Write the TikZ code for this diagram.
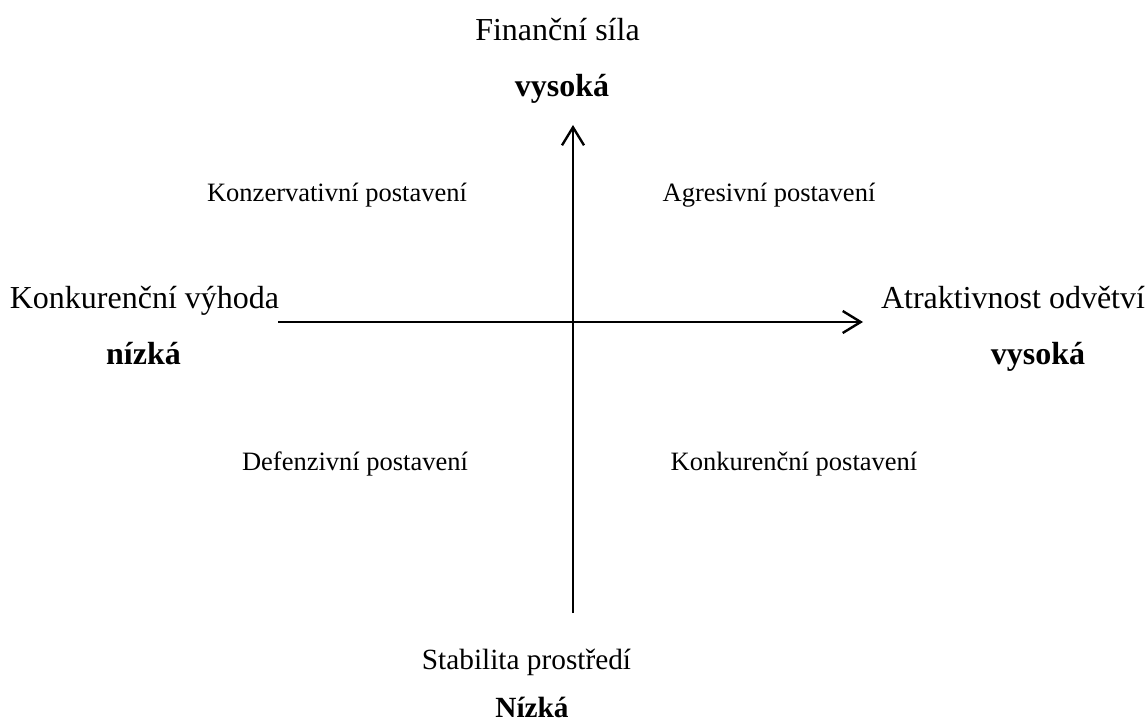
\documentclass[tikz,border=0pt]{standalone}
\usepackage{fontspec}
\setmainfont{Liberation Serif}
\usetikzlibrary{arrows.meta}
\tikzset{
  big/.style={anchor=base, inner sep=0pt, font=\fontsize{32}{38}\selectfont},
  bigb/.style={anchor=base, inner sep=0pt, font=\fontsize{32}{38}\selectfont\bfseries},
  mid/.style={anchor=base, inner sep=0pt, font=\fontsize{29.3}{35}\selectfont},
  midb/.style={anchor=base, inner sep=0pt, font=\fontsize{29.3}{35}\selectfont\bfseries},
  small/.style={anchor=base, inner sep=0pt, font=\fontsize{26.5}{32}\selectfont},
  axis/.style={line width=2.6pt, -{Straight Barb[length=18pt,width=22pt,line width=2.4pt]}}
}
\begin{document}
\begin{tikzpicture}[x=1pt,y=-1pt]
\useasboundingbox (0,0) rectangle (1146,722);
\fill[white] (0,0) rectangle (1146,722);
\coordinate (vbot) at (573,613);
\coordinate (vtop) at (573,125);
\coordinate (hl) at (278,322);
\coordinate (hr) at (863,322);
\draw[axis] (vbot) -- (vtop);
\draw[axis] (hl) -- (hr);
\node[big] (fin) at (557.5,41) {Finanční síla};
\node[bigb] (vys1) at (562,97) {vysoká};
\node[small] (kons) at (337,202) {Konzervativní postavení};
\node[small] (agr) at (769,202) {Agresivní postavení};
\node[big] (konv) at (144.5,308) {Konkurenční výhoda};
\node[big] (atr) at (1013,308) {Atraktivnost odvětví};
\node[bigb] (niz) at (143.5,364) {nízká};
\node[bigb] (vys2) at (1038,364) {vysoká};
\node[small] (def) at (355,470) {Defenzivní postavení};
\node[small] (konp) at (794,470) {Konkurenční postavení};
\node[mid] (stab) at (526.5,669) {Stabilita prostředí};
\node[midb] (Niz) at (532,717) {Nízká};
\end{tikzpicture}
\end{document}
